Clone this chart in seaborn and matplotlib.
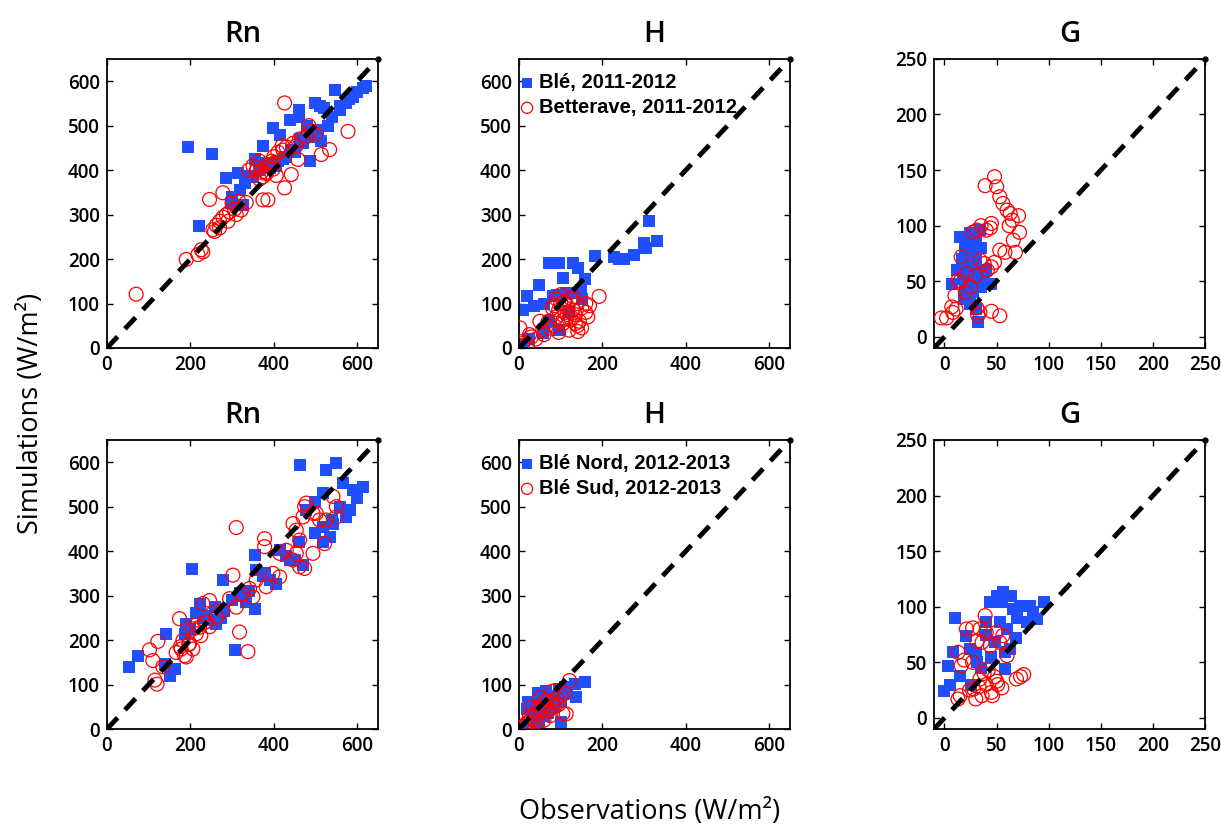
import matplotlib
matplotlib.use("Agg")
import matplotlib.pyplot as plt
import seaborn as sns
import pandas as pd

# --- Rn 2011-2012 ---
rn1_ble_obs = [194, 252, 221, 546, 614, 600, 620, 590, 500, 520, 510, 460, 438, 398, 414, 530, 558, 574, 514, 488,
               470, 374, 354, 314, 286, 342, 318, 298, 326, 422, 406, 442, 462, 480, 382, 390, 580, 560, 540, 505,
               450, 430, 410, 395, 365, 350, 330, 300, 460, 490]
rn1_ble_sim = [453, 437, 274, 581, 585, 575, 590, 565, 550, 540, 545, 536, 513, 495, 480, 498, 536, 551, 465, 420,
               461, 454, 424, 394, 382, 386, 356, 326, 322, 424, 409, 446, 469, 500, 415, 405, 560, 545, 520, 490,
               440, 430, 420, 410, 400, 385, 370, 340, 520, 475]
rn1_bet_obs = [70, 190, 218, 226, 230, 254, 262, 270, 278, 286, 294, 258, 246, 278, 300, 316, 306, 322, 334, 374,
               386, 426, 442, 458, 350, 358, 366, 374, 382, 390, 398, 406, 366, 382, 398, 422, 430, 446, 454, 462,
               478, 490, 500, 484, 514, 534, 578, 426, 340, 360, 370, 385, 395, 400, 410, 420, 310, 290, 270]
rn1_bet_sim = [121, 199, 210, 221, 216, 266, 276, 285, 294, 300, 306, 262, 334, 349, 326, 330, 312, 310, 327, 333,
               333, 360, 390, 424, 410, 398, 420, 385, 395, 412, 402, 388, 380, 392, 415, 445, 452, 460, 455, 470,
               475, 488, 480, 500, 435, 446, 487, 551, 400, 405, 395, 410, 420, 430, 440, 455, 300, 285, 270]

# --- H 2011-2012 ---
h1_ble_obs = [312, 332, 300, 305, 300, 276, 252, 228, 240, 181, 141, 130, 97, 73, 105, 149, 157, 49, 18, 10,
              81, 113, 141, 10, 25, 57, 97, 73, 120, 90, 60, 35, 150]
h1_ble_sim = [285, 240, 228, 225, 235, 210, 199, 205, 200, 206, 180, 191, 190, 190, 157, 131, 154, 142, 118, 86,
              116, 124, 124, 8, 20, 34, 40, 60, 80, 120, 100, 95, 110]
h1_bet_obs = [192, 141, 2, 10, 57, 70, 80, 90, 100, 105, 110, 115, 120, 125, 130, 135, 140, 145, 150, 160,
              165, 169, 60, 75, 85, 95, 100, 110, 120, 130, 140, 40, 50, 30, 20, 25, 115, 125, 95, 85,
              135, 150, 160, 105, 90]
h1_bet_sim = [116, 37, 45, 11, 41, 60, 90, 70, 100, 55, 80, 95, 65, 110, 85, 75, 100, 60, 90, 80,
              70, 95, 30, 45, 50, 35, 120, 105, 40, 115, 50, 20, 60, 25, 10, 30, 75, 65, 85, 95,
              55, 45, 100, 62, 110]

# --- G 2011-2012 ---
g1_ble_obs = [32, 15, 24, 34, 7, 19, 12, 17, 20, 22, 25, 28, 30, 32, 35, 38, 40, 45, 20, 25,
              30, 18, 22, 28, 35, 27, 24, 30, 34, 26, 18, 21]
g1_ble_sim = [13, 90, 93, 96, 48, 34, 60, 70, 80, 55, 65, 75, 85, 50, 45, 55, 60, 48, 45, 50,
              70, 65, 85, 60, 80, 40, 30, 25, 55, 90, 52, 75]
g1_bet_obs = [48, 39, 50, 53, 56, 60, 63, 71, 72, 66, 68, 58, 53, 27, 31, 35, 40, 44, 45, 16,
              13, 15, 21, 34, 38, 41, 45, 48, 10, 7, 2, 8, 11, 31, 34, 32, 45, 53, -3, 20,
              25, 30, 62, 65]
g1_bet_sim = [144, 136, 135, 126, 120, 114, 111, 109, 94, 87, 76, 76, 78, 94, 96, 100, 96, 98, 102, 72,
              51, 50, 57, 69, 66, 60, 63, 67, 37, 27, 17, 22, 25, 26, 22, 19, 23, 19, 17, 40,
              45, 55, 100, 105]

# --- Rn 2012-2013 ---
rn2_nord_obs = [462, 526, 550, 566, 590, 614, 582, 574, 542, 518, 534, 518, 498, 478, 518, 414, 430, 450, 470, 354,
                358, 375, 390, 406, 380, 204, 278, 318, 334, 354, 222, 214, 230, 246, 262, 274, 186, 190, 198, 142,
                306, 74, 54, 138, 150, 162, 300, 320, 340, 260, 280, 240, 440, 460, 500, 540, 560, 600]
rn2_nord_sim = [594, 583, 598, 553, 538, 545, 492, 477, 462, 455, 432, 530, 510, 492, 421, 402, 390, 380, 368, 391,
                357, 345, 335, 327, 350, 359, 335, 305, 285, 270, 282, 260, 250, 245, 237, 250, 214, 237, 225, 214,
                178, 165, 139, 147, 120, 135, 290, 300, 310, 275, 265, 255, 380, 420, 440, 470, 500, 520]
rn2_sud_obs = [310, 378, 378, 302, 338, 318, 174, 102, 122, 110, 134, 120, 115, 178, 190, 182, 198, 214, 222, 238,
               230, 246, 262, 278, 294, 310, 326, 342, 358, 350, 382, 398, 414, 414, 430, 446, 454, 462, 470, 478,
               474, 494, 502, 510, 526, 542, 550, 550, 462, 474, 494, 522, 446, 454, 206, 215, 225, 235, 246, 166,
               176, 186, 196, 206]
rn2_sud_sim = [453, 428, 410, 346, 174, 218, 248, 178, 197, 154, 140, 101, 110, 180, 162, 199, 192, 214, 229, 241,
               282, 289, 252, 267, 293, 274, 305, 316, 335, 297, 320, 350, 395, 342, 402, 462, 447, 425, 477, 508,
               500, 485, 485, 470, 470, 523, 500, 477, 365, 361, 395, 417, 380, 395, 225, 235, 210, 240, 230, 172,
               185, 165, 190, 180]

# --- H 2012-2013 ---
h2_nord_obs = [157, 133, 110, 97, 137, 101, 49, 10, 21, 45, 65, 57, 81, 30, 40, 60, 75, 90, 115, 20,
               35, 55, 70, 85, 100]
h2_nord_sim = [105, 101, 95, 90, 71, 15, 4, 8, 60, 80, 86, 56, 49, 40, 20, 30, 65, 75, 80, 45,
               55, 70, 35, 50, 60]
h2_sud_obs = [121, 113, 10, 20, 30, 40, 50, 60, 70, 80, 90, 100, 110, 25, 35, 45, 55, 65, 75, 85,
              95, 105, 15, 50, 60, 70, 80, 40, 30]
h2_sud_sim = [109, 34, 5, 15, 25, 35, 45, 55, 40, 60, 70, 75, 80, 30, 20, 50, 40, 65, 30, 50,
              55, 35, 10, 70, 20, 45, 85, 15, 50]

# --- G 2012-2013 ---
g2_nord_obs = [10, 3, 0, 5, 8, 15, 21, 24, 31, 40, 44, 50, 55, 56, 64, 66, 72, 69, 79, 82,
               89, 95, 63, 53, 58, 48, 58, 35, 45, 30, 25, 40, 60, 70, 85]
g2_nord_sim = [90, 47, 24, 30, 59, 38, 74, 62, 50, 86, 104, 110, 104, 113, 110, 98, 101, 72, 86, 101,
               89, 104, 62, 86, 59, 68, 44, 45, 55, 58, 30, 75, 80, 90, 95]
g2_sud_obs = [39, 21, 27, 34, 40, 50, 56, 44, 36, 31, 53, 13, 16, 19, 60, 69, 73, 76, 13, 15,
              24, 30, 36, 45, 51, 40, 34, 48, 55, 28, 42, 38, 46, 33, 50, 27]
g2_sud_sim = [92, 80, 81, 80, 77, 77, 74, 65, 68, 69, 68, 59, 47, 52, 56, 35, 37, 39, 17, 20,
              25, 17, 20, 23, 30, 30, 35, 37, 27, 26, 43, 40, 20, 28, 33, 50]

flux_lim = (0, 650)
g_lim = (-10, 250)
flux_xticks = [0, 200, 400, 600]
flux_yticks = [0, 100, 200, 300, 400, 500, 600]
g_ticks = [0, 50, 100, 150, 200, 250]

LEGEND_FONT = {"family": "Liberation Sans", "weight": "bold", "size": 14.5}


def draw_panel(ax, obs1, sim1, obs2, sim2, title, lim, xticks, yticks, labels=None):
    d1 = pd.DataFrame({"obs": obs1, "sim": sim1})
    d2 = pd.DataFrame({"obs": obs2, "sim": sim2})
    lab1 = labels[0] if labels else None
    lab2 = labels[1] if labels else None
    sns.scatterplot(data=d1, x="obs", y="sim", ax=ax, marker="s", color="#1f4fff",
                    edgecolor="#1f4fff", s=70, linewidth=0, label=lab1, zorder=2)
    sns.scatterplot(data=d2, x="obs", y="sim", ax=ax, marker="o", facecolors="none",
                    edgecolor="red", s=100, linewidth=0.9, label=lab2, zorder=3)
    ax.plot(lim, lim, color="black", linestyle=(0, (3.2, 2.2)), linewidth=3.5, zorder=4)
    ax.plot([lim[1]], [lim[1]], marker="o", color="black", markersize=3.5, clip_on=False, zorder=5)
    ax.set_xlim(lim)
    ax.set_ylim(lim)
    ax.set_xticks(xticks)
    ax.set_yticks(yticks)
    ax.set_xlabel("")
    ax.set_ylabel("")
    ax.set_title(title, fontsize=21, family="Open Sans", fontweight="semibold", pad=12, color="black")
    ax.tick_params(direction="in", top=True, right=True, length=4, width=1,
                   labelsize=13.5, pad=5, colors="black")
    for lbl in ax.get_xticklabels() + ax.get_yticklabels():
        lbl.set_family("Open Sans")
        lbl.set_fontweight("semibold")
    for sp in ax.spines.values():
        sp.set_linewidth(1.3)
        sp.set_color("black")
    if labels:
        ax.legend(loc="upper left", bbox_to_anchor=(-0.03, 0.965), frameon=False,
                  handletextpad=0.0, handlelength=1.2, borderaxespad=0.0, borderpad=0.2,
                  labelspacing=0.3, markerscale=0.8, prop=LEGEND_FONT, labelcolor="black")
    elif ax.get_legend() is not None:
        ax.get_legend().remove()


sns.set_style("ticks")
plt.rcParams["font.family"] = ["Liberation Sans", "DejaVu Sans"]

fig = plt.figure(figsize=(12.21, 8.26), dpi=100)
lefts = [0.0876, 0.4251, 0.765]
width = 0.222
top_b, bot_b, height = 0.5787, 0.1174, 0.350

axes = [[fig.add_axes([l, b, width, height]) for l in lefts] for b in (top_b, bot_b)]

draw_panel(axes[0][0], rn1_ble_obs, rn1_ble_sim, rn1_bet_obs, rn1_bet_sim, "Rn",
           flux_lim, flux_xticks, flux_yticks)
draw_panel(axes[0][1], h1_ble_obs, h1_ble_sim, h1_bet_obs, h1_bet_sim, "H",
           flux_lim, flux_xticks, flux_yticks,
           labels=["Blé, 2011-2012", "Betterave, 2011-2012"])
draw_panel(axes[0][2], g1_ble_obs, g1_ble_sim, g1_bet_obs, g1_bet_sim, "G",
           g_lim, g_ticks, g_ticks)
draw_panel(axes[1][0], rn2_nord_obs, rn2_nord_sim, rn2_sud_obs, rn2_sud_sim, "Rn",
           flux_lim, flux_xticks, flux_yticks)
draw_panel(axes[1][1], h2_nord_obs, h2_nord_sim, h2_sud_obs, h2_sud_sim, "H",
           flux_lim, flux_xticks, flux_yticks,
           labels=["Blé Nord, 2012-2013", "Blé Sud, 2012-2013"])
draw_panel(axes[1][2], g2_nord_obs, g2_nord_sim, g2_sud_obs, g2_sud_sim, "G",
           g_lim, g_ticks, g_ticks)

fig.text(0.025, 0.5, "Simulations (W/m²)", rotation=90, ha="center", va="center",
         fontsize=19.5, family="Open Sans", color="black")
fig.text(0.532, 0.017, "Observations (W/m²)", ha="center", va="center",
         fontsize=19.5, family="Open Sans", color="black")

fig.savefig("out.png", dpi=100)
